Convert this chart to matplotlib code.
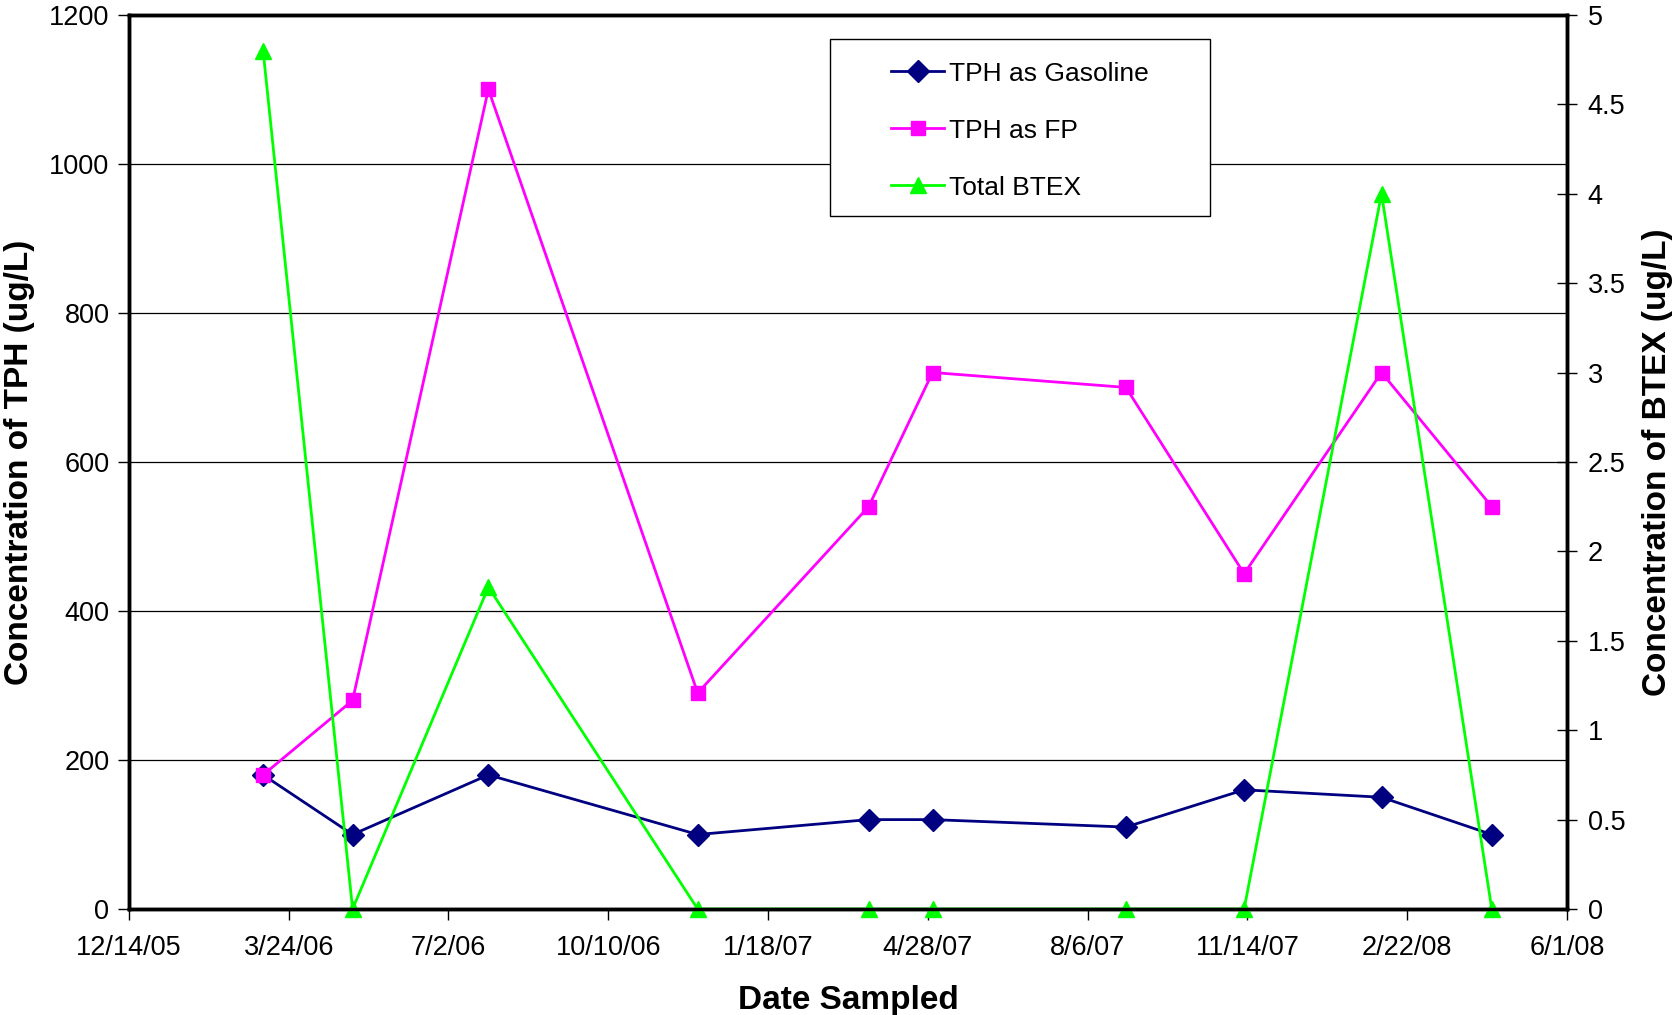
import matplotlib
matplotlib.use("Agg")
import matplotlib.pyplot as plt
import matplotlib.ticker as mticker
import matplotlib.dates as mdates
from matplotlib.patches import Rectangle
import pandas as pd

plt.rcParams['font.family'] = ['Liberation Sans', 'DejaVu Sans']

# sampling dates and results
dates = pd.to_datetime([
    "2006-03-08", "2006-05-03", "2006-07-27", "2006-12-05", "2007-03-22",
    "2007-05-01", "2007-08-30", "2007-11-12", "2008-02-06", "2008-04-15",
])
tph_gasoline = [180, 100, 180, 100, 120, 120, 110, 160, 150, 100]
tph_fp = [180, 280, 1100, 290, 540, 720, 700, 450, 720, 540]
total_btex = [4.8, 0, 1.8, 0, 0, 0, 0, 0, 4.0, 0]

x_ticks = pd.date_range("2005-12-14", periods=10, freq="100D")

fig = plt.figure(figsize=(16.74, 10.15), dpi=100)
ax = fig.add_axes([0.077, 0.1044, 0.859, 0.881])
ax2 = ax.twinx()

l1, = ax.plot(dates, tph_gasoline, color='#000080', lw=2.0, marker='D', ms=11,
              label='TPH as Gasoline')
l2, = ax.plot(dates, tph_fp, color='#ff00ff', lw=2.0, marker='s', ms=10.5,
              label='TPH as FP')
l3, = ax2.plot(dates, total_btex, color='#00ff00', lw=2.0, marker='^', ms=11,
               label='Total BTEX', clip_on=False)

ax.set_ylim(0, 1200)
ax.set_yticks(range(0, 1201, 200))
ax.grid(axis='y', color='black', lw=0.9)
ax.set_axisbelow(True)

ax2.set_ylim(0, 5)
ax2.set_yticks([i * 0.5 for i in range(11)])
ax2.yaxis.set_major_formatter(mticker.FuncFormatter(lambda v, p: f"{v:g}"))

ax.set_xlim(x_ticks[0], x_ticks[-1])
ax.set_xticks(x_ticks)
ax.xaxis.set_major_formatter(mticker.FuncFormatter(
    lambda v, p: (lambda d: f"{d.month}/{d.day}/{d.strftime('%y')}")(mdates.num2date(v))))

for a in (ax, ax2):
    for s in a.spines.values():
        s.set_linewidth(2.5)
        s.set_color('black')

ax.tick_params(axis='x', direction='out', length=8, width=1, labelsize=19.5, pad=11)
ax.tick_params(axis='y', direction='out', length=8, width=1, labelsize=19.5, pad=6)
ax2.tick_params(axis='y', direction='inout', length=14, width=1, labelsize=19.5, pad=8)

ax.set_xlabel('Date Sampled', fontsize=24, fontweight='bold', labelpad=17)
ax.set_ylabel('Concentration of TPH (ug/L)', fontsize=24, fontweight='bold', labelpad=10)
ax2.set_ylabel('Concentration of BTEX (ug/L)', fontsize=24, fontweight='bold', labelpad=12)

# legend box as in the original, with the entries centred inside it
box_x0, box_y0, box_x1, box_y1 = 0.4878, 0.7745, 0.752, 0.9726
ax2.add_patch(Rectangle((box_x0, box_y0), box_x1 - box_x0, box_y1 - box_y0,
                        transform=ax2.transAxes, facecolor='white',
                        edgecolor='black', lw=1.0, zorder=4))
leg = ax2.legend(handles=[l1, l2, l3], loc='center',
                 bbox_to_anchor=((box_x0 + box_x1) / 2, (box_y0 + box_y1) / 2 - 0.003),
                 fontsize=19, frameon=False, labelspacing=1.25,
                 handlelength=2.0, handletextpad=0.2, borderpad=0)
leg.set_zorder(5)

fig.savefig('out.png', dpi=100)
